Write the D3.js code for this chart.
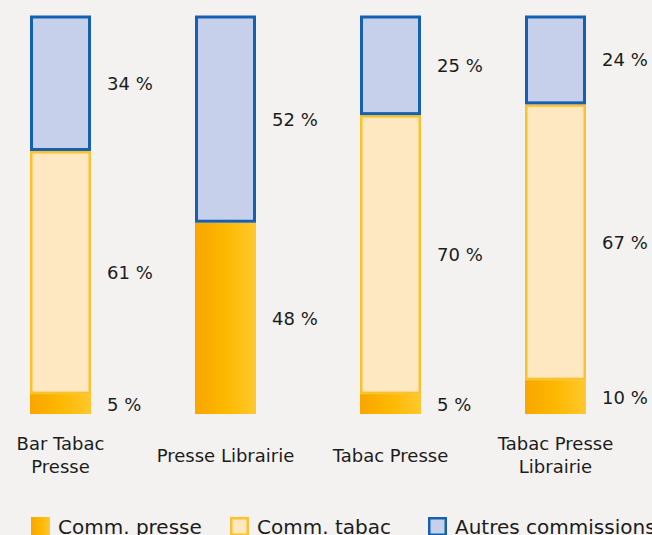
<!DOCTYPE html>
<html>
<head>
<meta charset="utf-8">
<script src="https://cdn.jsdelivr.net/npm/d3@7"></script>
<style>
  html, body { margin: 0; padding: 0; background: #f3f2f0; }
  svg { display: block; }
  text { font-family: "DejaVu Sans", sans-serif; fill: #1c1c1c; }
</style>
</head>
<body>
<svg id="chart" width="652" height="535"></svg>
<script>
// ---- Data ----
const categories = [["Bar Tabac", "Presse"], ["Presse Librairie"], ["Tabac Presse"], ["Tabac Presse", "Librairie"]];
const seriesNames = ["Comm. presse", "Comm. tabac", "Autres commissions"];
const commPresse = [5, 48, 5, 8.5];
const commTabac = [61, 0, 70, 69.2];
const autres = [34, 52, 25, 22.3];
const labelPresse = ["5 %", "48 %", "5 %", "10 %"];
const labelTabac = ["61 %", "", "70 %", "67 %"];
const labelAutres = ["34 %", "52 %", "25 %", "24 %"];

// ---- Setup ----
const svg = d3.select("#chart");
const defs = svg.append("defs");
const grad = defs.append("linearGradient").attr("id", "orangeGrad")
  .attr("x1", "0%").attr("x2", "100%").attr("y1", "0%").attr("y2", "0%");
grad.append("stop").attr("offset", "0%").attr("stop-color", "#f8a600");
grad.append("stop").attr("offset", "50%").attr("stop-color", "#fdb800");
grad.append("stop").attr("offset", "100%").attr("stop-color", "#fec82e");

const keys = categories.map(c => c.join(" "));
const x = d3.scaleBand().domain(keys).range([30, 586]).paddingInner(1 - 61 / 165).paddingOuter(0);
const y = d3.scaleLinear().domain([0, 100]).range([414, 15.5]);

const rows = keys.map((k, i) => ({ key: k, presse: commPresse[i], tabac: commTabac[i], autres: autres[i], i }));
const stack = d3.stack().keys(["presse", "tabac", "autres"]);
const stacked = stack(rows);

const styles = [
  { fill: "url(#orangeGrad)", stroke: "none", sw: 0 },
  { fill: "#fde8c1", stroke: "#fcc22e", sw: 2.5 },
  { fill: "#c6d0ea", stroke: "#1560b0", sw: 3 }
];
const labels = [labelPresse, labelTabac, labelAutres];

stacked.forEach((layer, li) => {
  const st = styles[li];
  const g = svg.append("g");
  layer.forEach((d, i) => {
    const h = y(d[0]) - y(d[1]);
    if (h <= 0) return;
    const x0 = x(keys[i]), w = x.bandwidth();
    const inset = st.sw / 2;
    g.append("rect")
      .attr("x", x0 + inset).attr("y", y(d[1]) + inset)
      .attr("width", w - 2 * inset).attr("height", h - 2 * inset)
      .attr("fill", st.fill)
      .attr("stroke", st.stroke).attr("stroke-width", st.sw);
    const lab = labels[li][i];
    if (lab) {
      svg.append("text")
        .attr("x", x0 + w + 16)
        .attr("y", (y(d[0]) + y(d[1])) / 2)
        .attr("dy", "0.36em")
        .attr("font-size", 18)
        .text(lab);
    }
  });
});

// Category labels
categories.forEach((lines, i) => {
  const cx = x(keys[i]) + x.bandwidth() / 2;
  const t = svg.append("text").attr("text-anchor", "middle").attr("font-size", 18);
  if (lines.length === 1) {
    t.append("tspan").attr("x", cx).attr("y", 462).text(lines[0]);
  } else {
    lines.forEach((l, j) => t.append("tspan").attr("x", cx).attr("y", 450 + j * 23).text(l));
  }
});

// Legend
const legendX = [31, 230, 428];
const legStyles = [
  { fill: "url(#orangeGrad)", stroke: "none", sw: 0 },
  { fill: "#fde8c1", stroke: "#fcc22e", sw: 2.5 },
  { fill: "#c6d0ea", stroke: "#1560b0", sw: 2.5 }
];
seriesNames.forEach((name, i) => {
  const st = legStyles[i];
  const inset = st.sw / 2;
  svg.append("rect")
    .attr("x", legendX[i] + inset).attr("y", 517 + inset)
    .attr("width", 19 - 2 * inset).attr("height", 19 - 2 * inset)
    .attr("fill", st.fill).attr("stroke", st.stroke).attr("stroke-width", st.sw);
  svg.append("text")
    .attr("x", legendX[i] + 27).attr("y", 534)
    .attr("font-size", 20)
    .text(name);
});
</script>
</body>
</html>
